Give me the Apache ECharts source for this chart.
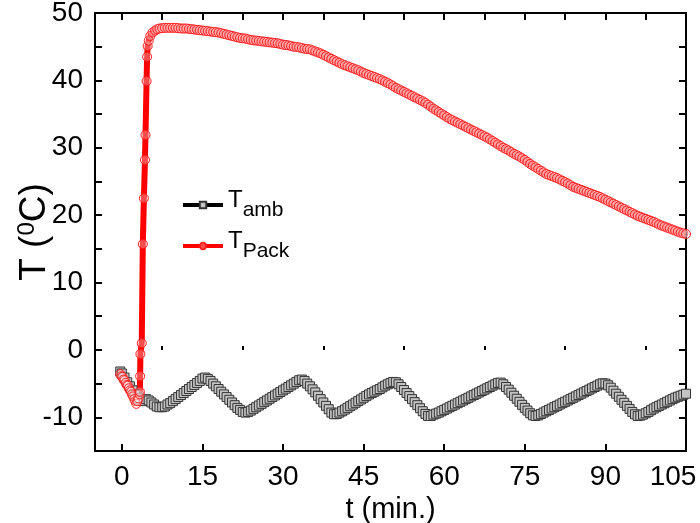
<!DOCTYPE html>
<html>
	<head>
		<meta charset="utf-8">
		<title>T amb / T Pack</title>
		<script src="https://cdn.jsdelivr.net/npm/echarts@6/dist/echarts.min.js"></script>
		<style>
			html, body { margin: 0; padding: 0; background: #fff; }
			#main { width: 700px; height: 523px; }
		</style>
	</head>
	<body>
		<div id="main"></div>
		<script>
			// 环境温度 T_amb (每 0.5 min 读一个点)
			var tAmb = [-0.3,
				0, 0.5, 1, 1.5, 2, 2.5, 3, 3.5, 4, 4.5,
				5, 5.5, 6, 6.5, 7, 7.5, 8, 8.5, 9, 9.5,
				10, 10.5, 11, 11.5, 12, 12.5, 13, 13.5, 14, 14.5,
				15, 15.5, 16, 16.5, 17, 17.5, 18, 18.5, 19, 19.5,
				20, 20.5, 21, 21.5, 22, 22.5, 23, 23.5, 24, 24.5,
				25, 25.5, 26, 26.5, 27, 27.5, 28, 28.5, 29, 29.5,
				30, 30.5, 31, 31.5, 32, 32.5, 33, 33.5, 34, 34.5,
				35, 35.5, 36, 36.5, 37, 37.5, 38, 38.5, 39, 39.5,
				40, 40.5, 41, 41.5, 42, 42.5, 43, 43.5, 44, 44.5,
				45, 45.5, 46, 46.5, 47, 47.5, 48, 48.5, 49, 49.5,
				50, 50.5, 51, 51.5, 52, 52.5, 53, 53.5, 54, 54.5,
				55, 55.5, 56, 56.5, 57, 57.5, 58, 58.5, 59, 59.5,
				60, 60.5, 61, 61.5, 62, 62.5, 63, 63.5, 64, 64.5,
				65, 65.5, 66, 66.5, 67, 67.5, 68, 68.5, 69, 69.5,
				70, 70.5, 71, 71.5, 72, 72.5, 73, 73.5, 74, 74.5,
				75, 75.5, 76, 76.5, 77, 77.5, 78, 78.5, 79, 79.5,
				80, 80.5, 81, 81.5, 82, 82.5, 83, 83.5, 84, 84.5,
				85, 85.5, 86, 86.5, 87, 87.5, 88, 88.5, 89, 89.5,
				90, 90.5, 91, 91.5, 92, 92.5, 93, 93.5, 94, 94.5,
				95, 95.5, 96, 96.5, 97, 97.5, 98, 98.5, 99, 99.5,
				100, 100.5, 101, 101.5, 102, 102.5, 103, 103.5, 104, 104.5,
				105];
			var TAmb = [-3.2,
				-3.5, -4.1, -4.8, -5.4, -6.0, -6.6, -7.1, -7.5, -7.6, -7.3,
				-7.5, -7.8, -8.1, -8.4, -8.5, -8.5, -8.4, -8.1, -7.9, -7.6,
				-7.3, -7.0, -6.7, -6.4, -6.1, -5.8, -5.5, -5.2, -4.9, -4.6,
				-4.25, -4.1, -4.3, -4.6, -5.0, -5.4, -5.8, -6.2, -6.6, -7.0,
				-7.4, -7.8, -8.2, -8.6, -8.9, -9.2, -9.3, -9.2, -9.0, -8.75,
				-8.5, -8.25, -8.0, -7.75, -7.5, -7.25, -7.0, -6.75, -6.5, -6.25,
				-6.0, -5.75, -5.5, -5.25, -5.0, -4.75, -4.5, -4.4, -4.6, -5.0,
				-5.4, -5.85, -6.3, -6.8, -7.3, -7.8, -8.3, -8.8, -9.3, -9.55,
				-9.5, -9.3, -9.1, -8.85, -8.6, -8.35, -8.1, -7.85, -7.6, -7.35,
				-7.1, -6.85, -6.6, -6.4, -6.2, -6.0, -5.8, -5.55, -5.3, -5.1,
				-4.9, -4.75, -4.8, -5.1, -5.5, -5.95, -6.4, -6.85, -7.3, -7.75,
				-8.2, -8.65, -9.1, -9.5, -9.8, -9.8, -9.6, -9.45, -9.3, -9.1,
				-8.9, -8.7, -8.5, -8.3, -8.1, -7.9, -7.7, -7.5, -7.3, -7.1,
				-6.9, -6.7, -6.5, -6.3, -6.1, -5.9, -5.7, -5.5, -5.3, -5.1,
				-4.9, -4.85, -5.1, -5.5, -5.9, -6.35, -6.8, -7.25, -7.7, -8.15,
				-8.6, -9.0, -9.4, -9.7, -9.8, -9.7, -9.5, -9.3, -9.1, -8.9,
				-8.7, -8.5, -8.3, -8.1, -7.9, -7.7, -7.5, -7.3, -7.1, -6.9,
				-6.7, -6.5, -6.3, -6.1, -5.9, -5.7, -5.5, -5.3, -5.1, -4.95,
				-5.0, -5.25, -5.6, -6.05, -6.5, -6.95, -7.4, -7.85, -8.3, -8.75,
				-9.2, -9.55, -9.8, -9.75, -9.6, -9.4, -9.2, -8.95, -8.7, -8.5,
				-8.3, -8.1, -7.9, -7.7, -7.5, -7.3, -7.1, -6.95, -6.8, -6.65,
				-6.5];

			// 电池包温度 T_Pack
			var tPack = [-0.3, -0.1, 0.1, 0.3, 0.5, 0.7, 0.9, 1.1, 1.3, 1.5, 1.7, 1.9, 2.1, 2.3, 2.5, 2.7, 2.9, 3.1, 3.3,
				3.35, 3.4, 3.45, 3.7, 3.9, 4.1, 4.3, 4.4, 4.6, 4.7, 4.8, 5.0, 5.3, 5.7, 6.2, 6.6,
				7, 7.5, 8, 8.5, 9, 9.5,
				10, 10.5, 11, 11.5, 12, 12.5, 13, 13.5, 14, 14.5,
				15, 15.5, 16, 16.5, 17, 17.5, 18, 18.5, 19, 19.5,
				20, 20.5, 21, 21.5, 22, 22.5, 23, 23.5, 24, 24.5,
				25, 25.5, 26, 26.5, 27, 27.5, 28, 28.5, 29, 29.5,
				30, 30.5, 31, 31.5, 32, 32.5, 33, 33.5, 34, 34.5,
				35, 35.5, 36, 36.5, 37, 37.5, 38, 38.5, 39, 39.5,
				40, 40.5, 41, 41.5, 42, 42.5, 43, 43.5, 44, 44.5,
				45, 45.5, 46, 46.5, 47, 47.5, 48, 48.5, 49, 49.5,
				50, 50.5, 51, 51.5, 52, 52.5, 53, 53.5, 54, 54.5,
				55, 55.5, 56, 56.5, 57, 57.5, 58, 58.5, 59, 59.5,
				60, 60.5, 61, 61.5, 62, 62.5, 63, 63.5, 64, 64.5,
				65, 65.5, 66, 66.5, 67, 67.5, 68, 68.5, 69, 69.5,
				70, 70.5, 71, 71.5, 72, 72.5, 73, 73.5, 74, 74.5,
				75, 75.5, 76, 76.5, 77, 77.5, 78, 78.5, 79, 79.5,
				80, 80.5, 81, 81.5, 82, 82.5, 83, 83.5, 84, 84.5,
				85, 85.5, 86, 86.5, 87, 87.5, 88, 88.5, 89, 89.5,
				90, 90.5, 91, 91.5, 92, 92.5, 93, 93.5, 94, 94.5,
				95, 95.5, 96, 96.5, 97, 97.5, 98, 98.5, 99, 99.5,
				100, 100.5, 101, 101.5, 102, 102.5, 103, 103.5, 104, 104.5,
				105];
			var TPack = [-3.6, -3.9, -4.0, -4.4, -4.5, -4.9, -5.2, -5.3, -5.7, -6.0, -6.2, -6.6, -6.9, -7.3, -7.6, -8.0, -7.6, -7.2, -6.6,
				-6.2, -3.9, -0.6, 1.0, 15.7, 22.5, 28.2, 31.9, 39.9, 43.5, 45.1, 45.9, 46.6, 47.1, 47.4, 47.6,
				47.7, 47.75, 47.8, 47.8, 47.8, 47.8,
				47.8, 47.75, 47.7, 47.7, 47.7, 47.65, 47.6, 47.55, 47.5, 47.45,
				47.4, 47.35, 47.3, 47.25, 47.2, 47.15, 47.1, 47.0, 46.9, 46.8,
				46.7, 46.6, 46.5, 46.4, 46.3, 46.25, 46.2, 46.1, 46.0, 45.95,
				45.9, 45.85, 45.8, 45.75, 45.7, 45.65, 45.6, 45.55, 45.5, 45.4,
				45.3, 45.25, 45.2, 45.1, 45.0, 44.95, 44.9, 44.8, 44.7, 44.65,
				44.6, 44.45, 44.3, 44.15, 44.0, 43.8, 43.6, 43.4, 43.2, 43.0,
				42.8, 42.6, 42.4, 42.25, 42.1, 41.95, 41.8, 41.65, 41.5, 41.3,
				41.1, 40.95, 40.8, 40.65, 40.5, 40.35, 40.2, 40.0, 39.8, 39.6,
				39.4, 39.15, 38.9, 38.7, 38.5, 38.3, 38.1, 37.9, 37.7, 37.5,
				37.3, 37.1, 36.9, 36.65, 36.4, 36.1, 35.8, 35.55, 35.3, 35.05,
				34.8, 34.55, 34.3, 34.1, 33.9, 33.7, 33.5, 33.3, 33.1, 32.9,
				32.7, 32.5, 32.3, 32.1, 31.9, 31.7, 31.5, 31.25, 31.0, 30.75,
				30.5, 30.25, 30.0, 29.8, 29.6, 29.35, 29.1, 28.9, 28.7, 28.45,
				28.2, 27.9, 27.6, 27.35, 27.1, 26.85, 26.6, 26.35, 26.1, 25.95,
				25.8, 25.65, 25.5, 25.3, 25.1, 24.9, 24.7, 24.45, 24.2, 24.05,
				23.9, 23.75, 23.6, 23.45, 23.3, 23.15, 23.0, 22.85, 22.7, 22.5,
				22.3, 22.1, 21.9, 21.7, 21.5, 21.3, 21.1, 20.9, 20.7, 20.5,
				20.3, 20.1, 19.9, 19.75, 19.6, 19.45, 19.3, 19.15, 19.0, 18.8,
				18.6, 18.45, 18.3, 18.15, 18.0, 17.85, 17.7, 17.55, 17.4, 17.3,
				17.2];

			// 刻度
			var xMajorTicks = [0, 15, 30, 45, 60, 75, 90, 105];
			var xMinorTicks = [7.5, 22.5, 37.5, 52.5, 67.5, 82.5, 97.5];
			var xTopTicks = [0, 7.5, 15, 22.5, 30, 37.5, 45, 52.5, 60, 67.5, 75, 82.5, 90, 97.5, 105];

			function pairs(xs, ys) {
				var out = [];
				for (var i = 0; i < xs.length; i++) out.push([xs[i], ys[i]]);
				return out;
			}

			var myChart = echarts.init(document.getElementById('main'));
			var frame = { show: true, onZero: false, lineStyle: { color: '#000', width: 2 } };
			var xBase = { type: 'value', min: -5, max: 105, splitLine: { show: false } };
			var font = 'Liberation Sans';

			var option = {
				animation: false,
				backgroundColor: '#fff',
				grid: { left: 95, right: 14, top: 13, bottom: 72, outerBoundsMode: 'none', containLabel: false },
				legend: {
					orient: 'vertical',
					left: 181,
					top: 188,
					padding: 0,
					itemWidth: 40,
					itemHeight: 8,
					itemGap: 7,
					lineStyle: { width: 4 },
					data: ['Tamb', 'TPack'],
					formatter: function(name) {
						return '{t|T}{s|' + name.slice(1) + '}';
					},
					textStyle: {
						color: '#000',
						rich: {
							t: { fontFamily: font, fontSize: 24, lineHeight: 24, padding: [0, 0, 10, 0], color: '#000' },
							s: { fontFamily: font, fontSize: 21, lineHeight: 21, padding: [10, 0, 0, 0], color: '#000' }
						}
					}
				},
				xAxis: [
					Object.assign({}, xBase, {
						position: 'bottom',
						name: 't (min.)',
						nameLocation: 'middle',
						nameGap: 41,
						nameTextStyle: { fontFamily: font, fontSize: 29, color: '#000' },
						axisLine: frame,
						axisTick: { inside: true, length: 7, customValues: xMajorTicks, lineStyle: { color: '#000', width: 2 } },
						axisLabel: {
							customValues: xMajorTicks, margin: 12, fontFamily: font, fontSize: 28, color: '#000',
							// 最后一个标签左移，避免被裁切
							formatter: function(v) { return v === 105 ? '{r|105}' : String(v); },
							rich: { r: { fontFamily: font, fontSize: 28, color: '#000', padding: [0, 26, 0, 0] } }
						}
					}),
					Object.assign({}, xBase, {
						position: 'bottom',
						axisLine: { show: false },
						axisTick: { inside: true, length: 4, customValues: xMinorTicks, lineStyle: { color: '#000', width: 2 } },
						axisLabel: { show: false }
					}),
					Object.assign({}, xBase, {
						position: 'top',
						axisLine: frame,
						axisTick: { inside: true, length: 7, customValues: xTopTicks, lineStyle: { color: '#000', width: 2 } },
						axisLabel: { show: false }
					})
				],
				yAxis: [
					{
						type: 'value', min: -15, max: 50, interval: 5, position: 'left',
						name: '{n|T (}{u|0}{n|C)}',
						nameLocation: 'middle',
						nameGap: 41,
						nameMoveOverlap: false,
						nameTextStyle: {
							rich: {
								n: { fontFamily: font, fontSize: 37, color: '#000' },
								u: { fontFamily: font, fontSize: 24, color: '#000', padding: [0, 0, 15, 0] }
							}
						},
						splitLine: { show: false },
						axisLine: frame,
						axisTick: { inside: true, length: 7, lineStyle: { color: '#000', width: 2 } },
						axisLabel: {
							margin: 12, fontFamily: font, fontSize: 28, color: '#000',
							formatter: function(v) { return v % 10 === 0 ? String(v) : ''; }
						}
					},
					{
						type: 'value', min: -15, max: 50, interval: 5, position: 'right',
						splitLine: { show: false },
						axisLine: frame,
						axisTick: { inside: true, length: 7, lineStyle: { color: '#000', width: 2 } },
						axisLabel: { show: false }
					}
				],
				series: [
					{
						name: 'Tamb',
						type: 'line',
						data: pairs(tAmb, TAmb),
						symbol: 'rect',
						symbolSize: 9,
						showAllSymbol: true,
						itemStyle: { color: '#c4c4c4', borderColor: '#333', borderWidth: 1 },
						lineStyle: { color: '#000', width: 5 }
					},
					{
						name: 'TPack',
						type: 'line',
						data: pairs(tPack, TPack),
						symbol: 'circle',
						symbolSize: 9,
						showAllSymbol: true,
						itemStyle: { color: 'rgba(255,255,255,0.3)', borderColor: '#ff1a1a', borderWidth: 1 },
						lineStyle: { color: '#ff0000', width: 6 }
					}
				]
			};

			option && myChart.setOption(option);
		</script>
	</body>
</html>
